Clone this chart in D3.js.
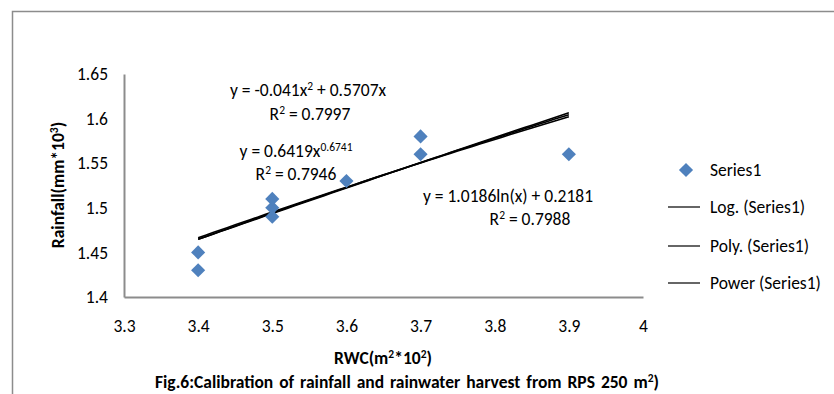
<!DOCTYPE html>
<html>
<head>
<meta charset="utf-8">
<script src="https://cdn.jsdelivr.net/npm/d3@7"></script>
<style>
  body { margin: 0; background: #fff; }
  svg text { font-family: Carlito, Lato, sans-serif; fill: #000; }
</style>
</head>
<body>
<svg id="chart" width="834" height="394"></svg>
<script>
// data
const rwc = [3.4, 3.4, 3.5, 3.5, 3.5, 3.6, 3.7, 3.7, 3.9];
const rainfall = [1.43, 1.45, 1.49, 1.50, 1.51, 1.53, 1.56, 1.58, 1.56];
const xTicks = [3.3, 3.4, 3.5, 3.6, 3.7, 3.8, 3.9, 4];
const yTicks = [1.4, 1.45, 1.5, 1.55, 1.6, 1.65];
const logCoef = [1.0186, 0.2181];
const polyCoef = [-0.041, 0.5707];
const powerCoef = [0.6419, 0.6741];
const legendNames = ["Series1", "Log. (Series1)", "Poly. (Series1)", "Power (Series1)"];

const FS = 17.5;
const SUP = 11.5;
const sup = (s) => `<tspan font-size="${SUP}" dy="-6">${s}</tspan>`;
const back = (s) => `<tspan dy="6">${s}</tspan>`;

const svg = d3.select("#chart");
let plot = { left: 124, right: 643, top: 74, bottom: 297 };

// outer frame
svg.append("path")
    .attr("d", "M12.5,400 V11.5 H840")
    .attr("fill", "none")
    .attr("stroke", "#8c8c8c")
    .attr("stroke-width", 1.5);

let xScale = d3.scaleLinear().domain([3.3, 4]).range([plot.left, plot.right]);
let yScale = d3.scaleLinear().domain([1.4, 1.65]).range([plot.bottom, plot.top]);

const fmt = (d) => String(+d.toFixed(2));

// axes, without tick marks (excel style)
const yAxis = svg.append("g")
    .attr("transform", `translate(${plot.left},0)`)
    .call(d3.axisLeft(yScale).tickValues(yTicks).tickSize(0).tickPadding(16).tickFormat(fmt));
const xAxis = svg.append("g")
    .attr("transform", `translate(0,${plot.bottom})`)
    .call(d3.axisBottom(xScale).tickValues(xTicks).tickSize(0).tickPadding(23).tickFormat(fmt));
[xAxis, yAxis].forEach((g) => {
    g.select(".domain").attr("stroke", "#8c8c8c").attr("stroke-width", 2);
    g.selectAll("text").attr("font-size", FS).style("font-family", null);
});

// trendlines from the equations on the chart
const xs = d3.range(0, 51).map((i) => 3.4 + i * 0.01);
const trends = [
    (x) => logCoef[0] * Math.log(x) + logCoef[1],
    (x) => polyCoef[0] * x * x + polyCoef[1] * x,
    (x) => powerCoef[0] * Math.pow(x, powerCoef[1]),
];
trends.forEach((f) => {
    svg.append("path")
        .attr("d", d3.line().x((d) => xScale(d)).y((d) => yScale(f(d)))(xs))
        .attr("fill", "none")
        .attr("stroke", "#000")
        .attr("stroke-width", 1.6);
});

// points
const diamond = d3.symbol().type(d3.symbolSquare).size(100);
svg.selectAll("path.pt")
    .data(rwc.map((x, i) => [x, rainfall[i]]))
    .enter()
    .append("path")
    .attr("class", "pt")
    .attr("d", diamond)
    .attr("fill", "#4f81bd")
    .attr("transform", (d) => `translate(${xScale(d[0])},${yScale(d[1])}) rotate(45)`);

// equation labels
const eq = svg.append("g").attr("font-size", FS).attr("text-anchor", "middle");
eq.append("text").attr("x", 308).attr("y", 96)
    .html("y = -0.041x" + sup("2") + back(" + 0.5707x"));
eq.append("text").attr("x", 310).attr("y", 120)
    .html("R" + sup("2") + back(" = 0.7997"));
eq.append("text").attr("x", 296).attr("y", 157)
    .html("y = 0.6419x" + sup("0.6741"));
eq.append("text").attr("x", 296).attr("y", 180)
    .html("R" + sup("2") + back(" = 0.7946"));
eq.append("text").attr("x", 508).attr("y", 202).text("y = 1.0186ln(x) + 0.2181");
eq.append("text").attr("x", 530).attr("y", 225)
    .html("R" + sup("2") + back(" = 0.7988"));

// axis titles
svg.append("text")
    .attr("transform", "translate(64,185) rotate(-90)")
    .attr("text-anchor", "middle")
    .attr("font-size", FS).attr("font-weight", "bold")
    .html("Rainfall(mm*10" + sup("3") + back(")"));
svg.append("text")
    .attr("x", 383).attr("y", 364)
    .attr("text-anchor", "middle")
    .attr("font-size", FS).attr("font-weight", "bold")
    .html("RWC(m" + sup("2") + back("*10") + sup("2") + back(")"));
svg.append("text")
    .attr("x", 407).attr("y", 388)
    .attr("text-anchor", "middle")
    .attr("font-size", FS).attr("font-weight", "bold")
    .attr("word-spacing", 2)
    .html("Fig.6:Calibration of rainfall and rainwater harvest from RPS 250 m" + sup("2") + back(")"));

// legend
const legendY = [170, 207, 246, 283];
const legend = svg.append("g").attr("font-size", FS);
legendNames.forEach((name, i) => {
    if (i === 0) {
        legend.append("path").attr("d", diamond)
            .attr("fill", "#4f81bd")
            .attr("transform", `translate(686,${legendY[i]}) rotate(45)`);
    } else {
        legend.append("line")
            .attr("x1", 668).attr("x2", 700)
            .attr("y1", legendY[i]).attr("y2", legendY[i])
            .attr("stroke", "#000").attr("stroke-width", 1.2);
    }
    legend.append("text").attr("x", 710).attr("y", legendY[i] + 6).text(name);
});
</script>
</body>
</html>
